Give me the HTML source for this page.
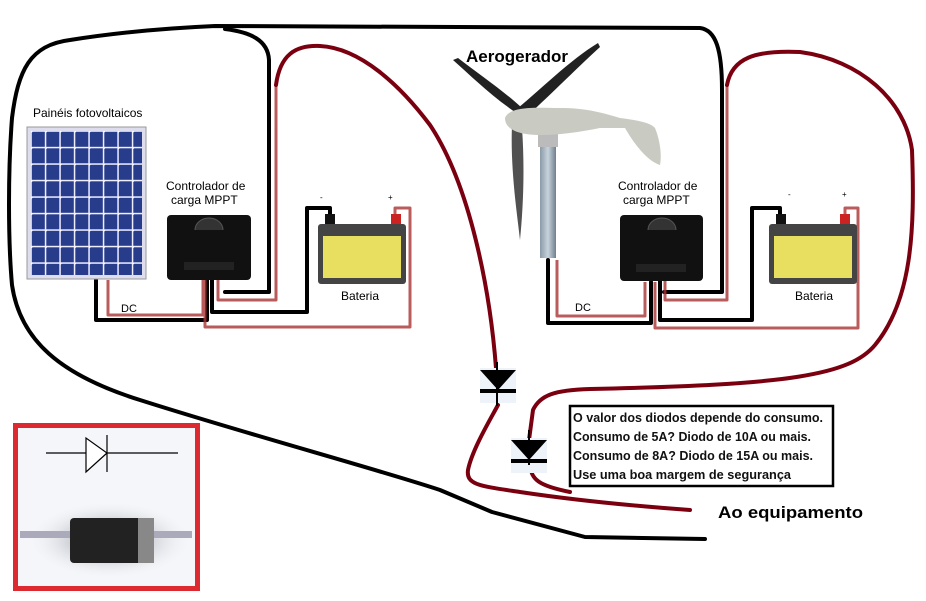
<!DOCTYPE html>
<html><head><meta charset="utf-8"><style>
body{margin:0;background:#fff;width:926px;height:601px;overflow:hidden}
svg{display:block}
text{font-family:"Liberation Sans",sans-serif}
</style></head><body>
<svg width="926" height="601" viewBox="0 0 926 601" xmlns="http://www.w3.org/2000/svg">
<defs>
<linearGradient id="pole" x1="0" x2="1"><stop offset="0" stop-color="#8a9aa8"/><stop offset=".5" stop-color="#c8d3dc"/><stop offset="1" stop-color="#6f7f8c"/></linearGradient>
<radialGradient id="shad" cx=".5" cy=".5" r=".5"><stop offset="0" stop-color="#334" stop-opacity=".7"/><stop offset="1" stop-color="#fff" stop-opacity="0"/></radialGradient>
<pattern id="cells" x="31" y="131" width="14.5" height="16.5" patternUnits="userSpaceOnUse"><rect width="14.5" height="16.5" fill="#eef"/><rect x="0.8" y="0.8" width="13" height="15" fill="#283c8c"/><circle cx="0" cy="0" r="1.6" fill="#fff"/></pattern>
</defs>

<g fill="none" stroke="#000" stroke-width="4" stroke-linecap="round" stroke-linejoin="round">
<path d="M12,118 C18,70 30,45 70,40 C120,32 170,28 215,26 L700,28 C716,30 722,50 722,90 L722,292 L664,292"/>
<path d="M225,29 C250,32 268,40 269,60 L269,292 L225,292"/>
<path d="M12,118 C8,170 8,240 12,285 C20,340 60,375 140,400 C250,435 380,470 440,490 L492,512 L585,537 L705,539"/>
<path d="M207,280 L207,320 L96,320 L96,280"/>
<path d="M212,280 L212,312 L307,312 L307,208 L330,208 L330,220"/>
<path d="M660,280 L660,320 L752,320 L752,208 L780,208 L780,220"/>
<path d="M651,282 L651,323 L548,323 L548,260"/>
</g>
<g fill="none" stroke="#a33" stroke-width="3" stroke-linejoin="round" opacity=".8">
<path d="M203,280 L203,315 L108,315 L108,280"/>
<path d="M218,280 L218,300 L276,300 L276,85"/>
<path d="M205,280 L205,327 L410,327 L410,208 L395,208 L395,220"/>
<path d="M665,280 L665,300 L727,300 L727,85"/>
<path d="M655,282 L655,328 L858,328 L858,208 L845,208 L845,220"/>
<path d="M645,282 L645,316 L557,316 L557,260"/>
</g>
<g fill="none" stroke="#7a0010" stroke-width="4" stroke-linecap="round" stroke-linejoin="round">
<path d="M276,85 C280,55 295,45 320,46 C360,48 400,85 430,125 C470,185 490,290 496,368"/>
<path d="M498,405 C490,420 472,450 468,470 C466,485 480,486 520,492 C560,498 620,505 690,510"/>
<path d="M727,85 C732,58 755,50 800,52 C860,60 905,100 912,150 C915,230 912,300 875,345 C850,375 790,385 590,389 C555,390 540,395 533,410 L529,440"/>
<path d="M530,463 C530,480 540,486 570,492"/>
</g>

<rect x="27" y="127" width="119" height="152" fill="#dde" stroke="#999"/>
<rect x="31" y="131" width="111" height="144" fill="url(#cells)"/>
<text x="33" y="117" font-size="12">Painéis fotovoltaicos</text>

<text x="166" y="190" font-size="12">Controlador de</text>
<text x="171" y="204" font-size="12">carga MPPT</text>
<rect x="167" y="215" width="84" height="65" rx="4" fill="#111"/>
<path d="M195,230 a14,12 0 0 1 28,0" fill="#333" stroke="#555"/>
<rect x="184" y="262" width="50" height="8" fill="#222"/>

<rect x="318" y="224" width="88" height="60" rx="3" fill="#444"/>
<rect x="323" y="236" width="78" height="42" fill="#e8de60"/>
<rect x="325" y="214" width="10" height="10" fill="#111"/><rect x="391" y="214" width="10" height="10" fill="#c22"/>
<text x="341" y="300" font-size="12">Bateria</text>
<text x="320" y="200" font-size="8">-</text><text x="388" y="200" font-size="8">+</text>
<text x="121" y="312" font-size="11" font-family="Liberation Serif,serif">DC</text>

<rect x="540" y="140" width="16" height="118" fill="url(#pole)"/>
<rect x="538" y="133" width="20" height="14" fill="#bbb"/>
<path d="M515,112 C490,95 470,75 453,60 L458,58 C480,75 505,92 522,108 Z" fill="#222"/>
<path d="M518,108 C540,90 570,60 598,43 L600,47 C575,70 545,100 525,118 Z" fill="#222"/>
<path d="M512,125 C510,170 518,220 520,240 C523,210 525,170 522,128 Z" fill="#333" opacity=".85"/>
<path d="M505,118 C510,105 540,108 560,108 C585,108 600,112 620,118 C635,120 650,122 655,128 C660,140 662,155 660,165 C645,160 632,140 625,128 L600,128 C580,132 560,135 540,135 C520,135 505,130 505,118 Z" fill="#c9cbc3"/>
<text x="466" y="62" font-size="17" font-weight="bold">Aerogerador</text>

<text x="618" y="190" font-size="12">Controlador de</text>
<text x="623" y="204" font-size="12">carga MPPT</text>
<rect x="620" y="215" width="83" height="66" rx="4" fill="#111"/>
<path d="M648,230 a14,12 0 0 1 28,0" fill="#333" stroke="#555"/>
<rect x="636" y="264" width="50" height="8" fill="#222"/>

<rect x="769" y="224" width="88" height="60" rx="3" fill="#444"/>
<rect x="774" y="236" width="78" height="42" fill="#e8de60"/>
<rect x="776" y="214" width="10" height="10" fill="#111"/><rect x="840" y="214" width="10" height="10" fill="#c22"/>
<text x="795" y="300" font-size="12">Bateria</text>
<text x="788" y="197" font-size="8">-</text><text x="842" y="197" font-size="8">+</text>
<text x="575" y="311" font-size="11" font-family="Liberation Serif,serif">DC</text>

<rect x="480" y="368" width="36" height="35" fill="#eef3fa"/>
<path d="M497,362 L497,406" stroke="#000" stroke-width="2"/>
<path d="M480,370 L516,370 L498,390 Z" fill="#000"/>
<rect x="480" y="389" width="36" height="4" fill="#000"/>
<rect x="511" y="438" width="36" height="35" fill="#eef3fa"/>
<path d="M529,430 L529,465" stroke="#000" stroke-width="2"/>
<path d="M511,440 L547,440 L529,460 Z" fill="#000"/>
<rect x="511" y="459" width="36" height="4" fill="#000"/>

<rect x="570" y="406" width="263" height="80" fill="#fff" stroke="#000" stroke-width="2.5"/>
<g font-size="12.5" font-weight="600" fill="#111">
<text x="573" y="422" textLength="250" lengthAdjust="spacingAndGlyphs">O valor dos diodos depende do consumo.</text>
<text x="573" y="441" textLength="238" lengthAdjust="spacingAndGlyphs">Consumo de 5A? Diodo de 10A ou mais.</text>
<text x="573" y="460" textLength="240" lengthAdjust="spacingAndGlyphs">Consumo de  8A? Diodo de 15A ou mais.</text>
<text x="573" y="479" textLength="218" lengthAdjust="spacingAndGlyphs">Use uma boa margem de segurança</text>
</g>
<text x="718" y="518" font-size="17" font-weight="bold" textLength="145" lengthAdjust="spacingAndGlyphs">Ao equipamento</text>

<rect x="15.5" y="425.5" width="182" height="163" fill="#f4f6fa" stroke="#dd2a30" stroke-width="5"/>
<ellipse cx="110" cy="540" rx="85" ry="40" fill="url(#shad)"/>
<path d="M46,453 L178,453" stroke="#000" stroke-width="1.2"/>
<path d="M86,438 L86,472 L107,453 Z" fill="#fff" stroke="#000" stroke-width="1.2"/>
<path d="M107,435 L107,472" stroke="#000" stroke-width="1.2"/>
<rect x="20" y="531" width="172" height="7" fill="#aab"/>
<rect x="70" y="518" width="84" height="45" rx="4" fill="#222"/>
<rect x="138" y="518" width="16" height="45" fill="#888"/>
</svg>
</body></html>
